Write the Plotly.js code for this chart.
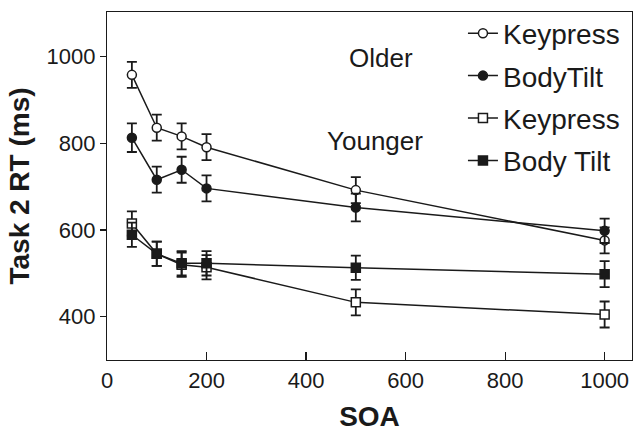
<!DOCTYPE html>
<html><head><meta charset="utf-8">
<script src="https://cdn.plot.ly/plotly-3.0.1.min.js"></script>
<style>body{margin:0}#c{width:633px;height:434px}</style>
</head><body><div id="c"></div>
<script>
const soa = [50, 100, 150, 200, 500, 1000];
const olderKeypress = [958, 836, 816, 791, 692, 576];
const olderKeypressErr = [30, 30, 30, 30, 30, 30];
const olderBodyTilt = [813, 716, 739, 696, 652, 598];
const olderBodyTiltErr = [33, 30, 30, 30, 32, 28];
const youngerKeypress = [615, 545, 520, 514, 433, 405];
const youngerKeypressErr = [28, 28, 28, 28, 30, 30];
const youngerBodyTilt = [589, 545, 523, 523, 513, 498];
const youngerBodyTiltErr = [28, 28, 28, 28, 28, 30];
const names = ["Keypress", "BodyTilt", "Keypress", "Body Tilt"];
const xTicks = [0, 200, 400, 600, 800, 1000];
const yTicks = [400, 600, 800, 1000];

function tr(y, e, name, sym, fill, grp){
  return {x: soa, y: y, name: name, type: 'scatter', mode: 'lines+markers',
    legendgroup: grp,
    line: {color: '#1a1a1a', width: 1.5},
    marker: {symbol: sym, size: 9, color: fill,
             line: {color: '#1a1a1a', width: 1.5}},
    error_y: {type: 'data', array: e, visible: true, color: '#1a1a1a', thickness: 1.8, width: 5}};
}
const data = [
  tr(olderKeypress, olderKeypressErr, names[0], 'circle', '#ffffff', 'a'),
  tr(olderBodyTilt, olderBodyTiltErr, names[1], 'circle', '#1a1a1a', 'b'),
  tr(youngerKeypress, youngerKeypressErr, names[2], 'square', '#ffffff', 'c'),
  tr(youngerBodyTilt, youngerBodyTiltErr, names[3], 'square', '#1a1a1a', 'd')
];
const fam = 'Liberation Sans, Arial, sans-serif';
const ink = '#1a1a1a';
const layout = {
  width: 633, height: 434,
  margin: {l: 107, r: 1, t: 12, b: 74},
  paper_bgcolor: '#ffffff', plot_bgcolor: '#ffffff',
  font: {family: fam, color: ink},
  showlegend: true,
  legend: {x: 0.678, xanchor: 'left', y: 1.01, yanchor: 'top', bgcolor: 'rgba(0,0,0,0)',
           font: {family: fam, size: 28, color: ink}, tracegroupgap: 3, traceorder: 'grouped'},
  xaxis: {range: [0, 1055], tickvals: xTicks, ticks: 'inside', ticklen: 8, tickwidth: 1.2, tickcolor: ink,
          showline: true, mirror: true, linecolor: ink, linewidth: 1.2, showgrid: false, zeroline: false,
          tickfont: {size: 22, family: fam, color: ink},
          title: {text: '<b>SOA</b>', font: {size: 28, family: fam, color: ink}, standoff: 14}},
  yaxis: {range: [300, 1103], tickvals: yTicks, ticks: 'outside', ticklen: 6, tickwidth: 1.2, tickcolor: ink,
          showline: true, mirror: true, linecolor: ink, linewidth: 1.2, showgrid: false, zeroline: false,
          tickfont: {size: 22, family: fam, color: ink},
          title: {text: '<b>Task 2 RT (ms)</b>', font: {size: 28, family: fam, color: ink}, standoff: 8}},
  annotations: [
    {x: 551, y: 997, xref: 'x', yref: 'y', text: 'Older', showarrow: false, font: {size: 26, family: fam, color: ink}},
    {x: 538, y: 805, xref: 'x', yref: 'y', text: 'Younger', showarrow: false, font: {size: 26, family: fam, color: ink}}
  ]
};
Plotly.newPlot('c', data, layout, {displayModeBar: false, staticPlot: true});
</script></body></html>
